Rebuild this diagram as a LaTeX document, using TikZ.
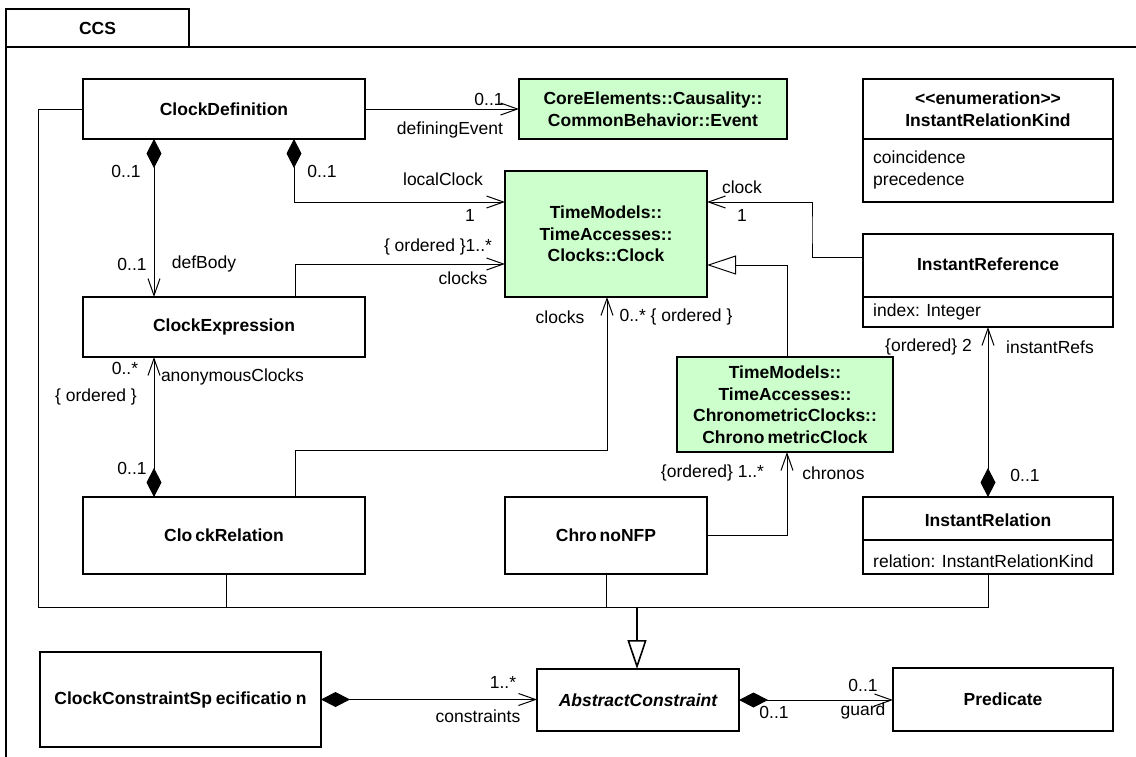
\documentclass[tikz,border=0pt]{standalone}
\usepackage{fontspec}
\setmainfont{Liberation Sans}
\usepackage{tikz}
\usetikzlibrary{arrows.meta,positioning,calc}
\definecolor{ClsGreen}{HTML}{CCFFCC}
\newcommand{\diagfont}{\fontsize{17.5}{21.5}\selectfont}

\begin{document}
\begin{tikzpicture}[x=1pt,y=-1pt,font=\diagfont,
 cls/.style={draw,line width=1.6pt,outer sep=0pt,inner sep=0pt,
             font=\diagfont\bfseries,align=center},
 ext/.style={cls,fill=ClsGreen},
 title/.style={font=\diagfont\bfseries,align=center},
 attr/.style={anchor=west,align=left,inner sep=0pt},
 lbl/.style={inner sep=0pt},
 assoc/.style={line width=1pt,-{Straight Barb[length=17pt,width=12pt]}},
 comp/.style={line width=1pt,{Diamond[length=29pt,width=15pt]}-{Straight Barb[length=17pt,width=12pt]}},
 gen/.style={line width=1pt,-{Triangle[length=29pt,width=19pt,fill=white]}}]
\useasboundingbox (0,0) rectangle (1136,756);
\node[cls,minimum width=183pt,minimum height=38pt] (tab) at (97.5,28) {CCS};
\draw[line width=1.6pt] (tab.south west) rectangle (1170,790);
\node[cls,minimum width=282pt,minimum height=60pt] (cdef) at (224,109) {ClockDefinition};
\node[ext,minimum width=268pt,minimum height=60pt,right=154pt of cdef] (event) {CoreElements::Causality::\\CommonBehavior::Event};
\node[cls,minimum width=282pt,minimum height=60pt,below=158pt of cdef] (cexp) {ClockExpression};
\node[cls,minimum width=282pt,minimum height=77pt,below=140pt of cexp] (crel) {Clo\kern3pt ckRelation};
\node[ext,minimum width=202pt,minimum height=126pt] (clock) at (606,234) {TimeModels::\\TimeAccesses::\\Clocks::Clock};
\node[ext,minimum width=216pt,minimum height=95pt] (chrono) at (785,404.5) {TimeModels::\\TimeAccesses::\\ChronometricClocks::\\Chrono\kern3pt metricClock};
\node[cls,minimum width=202pt,minimum height=77pt,right=140pt of crel] (cnfp) {Chro\kern3pt noNFP};
\node[cls,minimum width=250pt,minimum height=123pt] (irk) at (988,140.5) {};
\node[cls,minimum width=250pt,minimum height=93pt] (iref) at (988,280.5) {};
\node[cls,minimum width=250pt,minimum height=77pt] (irel) at (988,535.5) {};
\node[cls,minimum width=281pt,minimum height=95pt] (ccs) at (180.5,699.5) {ClockConstraintSp\kern4pt ecificatio\kern4pt n};
\node[cls,minimum width=202pt,minimum height=62pt,font=\diagfont\bfseries\itshape] (abst) at (638,700) {AbstractConstraint};
\node[cls,minimum width=220pt,minimum height=63pt] (pred) at (1003,699.5) {Predicate};
\node[title] (irkname) at (988,109) {<{}<enumeration>{}>\\InstantRelationKind};
\node[attr] (irkvals) at (873,170) {coincidence\\precedence};
\node[title] (irefname) at (988,264) {InstantReference};
\node[attr] (irefattr) at (873,312) {index: Integer};
\node[title] (irelname) at (988,520) {InstantRelation};
\node[attr] (irelattr) at (873,561) {relation: InstantRelationKind};
\draw[line width=1.6pt] (irk.west |- 0,139) -- (irk.east |- 0,139);
\draw[line width=1.6pt] (iref.west |- 0,297) -- (iref.east |- 0,297);
\draw[line width=1.6pt] (irel.west |- 0,540) -- (irel.east |- 0,540);
\draw[assoc] (cdef) -- (event)
  node[lbl,at end,shift={(-30,-10)}] {0..1}
  node[lbl,at end,shift={(-69,21)}] {definingEvent};
\draw[comp] (cdef.south -| 294,0) |- (clock.west |- 0,202)
  node[lbl,at start,shift={(28,32)}] {0..1}
  node[lbl,at end,shift={(-62,-23)}] {localClock}
  node[lbl,at end,shift={(-35,13)}] {1};
\draw[comp] (cdef.south -| 154,0) -- (cexp.north -| 154,0)
  node[lbl,at start,shift={(-28,32)}] {0..1}
  node[lbl,at end,shift={(-22,-33)}] {0..1}
  node[lbl,at end,shift={(50,-33)}] {defBody};
\draw[assoc] (cexp.north -| 295,0) |- (clock.west |- 0,264)
  node[lbl,at end,shift={(-67,-17)}] {\{ ordered \}1..*}
  node[lbl,at end,shift={(-42,14)}] {clocks};
\draw[comp] (crel.north -| 154,0) -- (cexp.south -| 154,0)
  node[lbl,at start,shift={(-22,-29)}] {0..1}
  node[lbl,at end,shift={(-29,11)}] {0..*}
  node[lbl,at end,shift={(-58,40)}] {\{ ordered \}}
  node[lbl,at end,shift={(78.5,20)}] {anonymousClocks};
\draw[assoc] (crel.north -| 295,0) |- (607,450) -- (clock.south -| 607,0)
  node[lbl,at end,shift={(-47,20)}] {clocks}
  node[lbl,at end,shift={(69,20)}] {0..* \{ ordered \}};
\draw[assoc] (iref.west |- 0,257) -| (812,230) |- (clock.east |- 0,202)
  node[lbl,at end,shift={(35,-15)}] {clock}
  node[lbl,at end,shift={(35,13)}] {1};
\draw[gen] (chrono.north -| 787,0) |- (clock.east |- 0,265);
\draw[comp] (irel.north) -- (iref.south)
  node[lbl,at start,shift={(37,-22)}] {0..1}
  node[lbl,at end,shift={(-59.5,20)}] {\{ordered\} 2}
  node[lbl,at end,shift={(62,20)}] {instantRefs};
\draw[assoc] (cnfp.east) -| (chrono.south -| 787,0)
  node[lbl,at end,shift={(-74.5,21)}] {\{ordered\} 1..*}
  node[lbl,at end,shift={(46.5,21)}] {chronos};
\coordinate (bus) at (637,607);
\draw[line width=1pt] (cdef.west) -| (bus -| 38,0) -| (irel.south);
\draw[line width=1pt] (crel.south -| 226,0) -- (bus -| 226,0);
\draw[line width=1pt] (cnfp.south) -- (cnfp.south |- bus);
\draw[gen,line width=1.6pt] (bus) -- (abst.north -| bus);
\draw[comp] (ccs.east) -- (ccs.east -| abst.west)
  node[lbl,at end,shift={(-34,-17)}] {1..*}
  node[lbl,at end,shift={(-59,17)}] {constraints};
\draw[comp] (abst.east) -- (abst.east -| pred.west)
  node[lbl,at start,shift={(35,12)}] {0..1}
  node[lbl,at end,shift={(-30,-15)}] {0..1}
  node[lbl,at end,shift={(-30,11)}] {guard};
\end{tikzpicture}
\end{document}
